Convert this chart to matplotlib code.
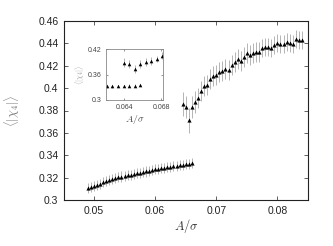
import numpy as np
import matplotlib
matplotlib.use("Agg")
import matplotlib.pyplot as plt
from matplotlib.ticker import FuncFormatter

plt.rcParams['font.family'] = ['Liberation Sans', 'DejaVu Sans']
plt.rcParams['mathtext.fontset'] = 'cm'

# Lower branch (main plot)
x_low = [0.0490, 0.0495, 0.0500, 0.0505, 0.0510, 0.0515, 0.0520, 0.0525, 0.0530,
         0.0535, 0.0540, 0.0545, 0.0550, 0.0555, 0.0560, 0.0565, 0.0570, 0.0575,
         0.0580, 0.0585, 0.0590, 0.0595, 0.0600, 0.0605, 0.0610, 0.0615, 0.0620,
         0.0625, 0.0630, 0.0635, 0.0640, 0.0645, 0.0650, 0.0655, 0.0660]
y_low = [0.3108, 0.3118, 0.3128, 0.3138, 0.3147, 0.3158, 0.3170, 0.3180, 0.3188,
         0.3196, 0.3204, 0.3210, 0.3215, 0.3220, 0.3226, 0.3233, 0.3240, 0.3245,
         0.3250, 0.3255, 0.3261, 0.3267, 0.3273, 0.3278, 0.3283, 0.3288, 0.3294,
         0.3298, 0.3302, 0.3307, 0.3312, 0.3316, 0.3320, 0.3325, 0.3331]
e_low = [0.0045] * len(x_low)

# Upper branch (main plot)
x_up = [0.0645, 0.0650, 0.0655, 0.0660, 0.0665, 0.0670, 0.0675, 0.0680, 0.0685,
        0.0690, 0.0695, 0.0700, 0.0705, 0.0710, 0.0715, 0.0720, 0.0725, 0.0730,
        0.0735, 0.0740, 0.0745, 0.0750, 0.0755, 0.0760, 0.0765, 0.0770, 0.0775,
        0.0780, 0.0785, 0.0790, 0.0795, 0.0800, 0.0805, 0.0810, 0.0815, 0.0820,
        0.0825, 0.0830, 0.0835, 0.0840]
y_up = [0.3858, 0.3834, 0.3712, 0.3829, 0.3876, 0.3915, 0.3971, 0.4022, 0.4025,
        0.4082, 0.4111, 0.4120, 0.4141, 0.4150, 0.4174, 0.4162, 0.4210, 0.4234,
        0.4263, 0.4245, 0.4275, 0.4311, 0.4293, 0.4317, 0.4320, 0.4323, 0.4359,
        0.4365, 0.4368, 0.4359, 0.4389, 0.4400, 0.4397, 0.4392, 0.4415, 0.4403,
        0.4394, 0.4442, 0.4430, 0.4430]
e_up = [0.011, 0.010, 0.011, 0.010, 0.010, 0.009, 0.009, 0.009, 0.009, 0.009,
        0.009, 0.009, 0.009, 0.009, 0.009, 0.009, 0.009, 0.009, 0.009, 0.009,
        0.009, 0.009, 0.009, 0.009, 0.009, 0.009, 0.008, 0.008, 0.008, 0.008,
        0.008, 0.008, 0.008, 0.008, 0.008, 0.008, 0.008, 0.008, 0.008, 0.008]

# Inset data
xi_low = [0.0621, 0.0627, 0.0633, 0.0639, 0.0645, 0.0651, 0.0657]
yi_low = [0.332, 0.332, 0.333, 0.333, 0.334, 0.334, 0.335]
ei_low = [0.003] * len(xi_low)
xi_up = [0.0639, 0.0645, 0.0651, 0.0657, 0.0663, 0.0669, 0.0675, 0.0681]
yi_up = [0.388, 0.385, 0.373, 0.385, 0.3895, 0.392, 0.397, 0.405]
ei_up = [0.011, 0.010, 0.010, 0.010, 0.009, 0.009, 0.008, 0.008]

main_xticks = [0.05, 0.06, 0.07, 0.08]
main_yticks = [0.30, 0.32, 0.34, 0.36, 0.38, 0.40, 0.42, 0.44, 0.46]
ins_xticks = [0.064, 0.068]
ins_yticks = [0.30, 0.36, 0.42]

W, H = 333, 246
fig = plt.figure(figsize=(W / 100, H / 100), dpi=100)
ax = fig.add_axes([64 / W, 1 - 200 / H, (308 - 64) / W, (200 - 21) / H])

fmt = FuncFormatter(lambda v, p: ('%g' % round(v, 4)))
ebkw = dict(fmt='^', color='black', ecolor='#a8a8a8', elinewidth=0.6,
            capsize=1.5, capthick=0.6, markersize=3.0, markeredgewidth=0)
ax.errorbar(x_low, y_low, yerr=e_low, **ebkw)
ax.errorbar(x_up, y_up, yerr=e_up, **ebkw)
ax.set_xlim(0.0451, 0.0850)
ax.set_ylim(0.30, 0.46)
ax.set_xticks(main_xticks)
ax.set_yticks(main_yticks)
ax.xaxis.set_major_formatter(fmt)
ax.yaxis.set_major_formatter(fmt)
ax.tick_params(direction='in', top=True, right=True, length=3, width=0.5,
               labelsize=7.5, colors='#222222', pad=4)
for s in ax.spines.values():
    s.set_linewidth(0.8)
    s.set_color('#222222')
ax.set_xlabel(r'$A/\sigma$', fontsize=9, color='#333333', labelpad=1)
ax.set_ylabel(r'$\langle|\chi_4|\rangle$', fontsize=9, color='#777777', labelpad=12)

# Inset
ins = fig.add_axes([106 / W, 1 - 100 / H, (163.3 - 106) / W, (100 - 49.3) / H])
ekw2 = dict(ebkw)
ekw2.update(markersize=2.6, capsize=1.2)
ins.errorbar(xi_low, yi_low, yerr=ei_low, **ekw2)
ins.errorbar(xi_up, yi_up, yerr=ei_up, **ekw2)
ins.set_xlim(0.0620, 0.0682)
ins.set_ylim(0.30, 0.42)
ins.set_xticks(ins_xticks)
ins.set_yticks(ins_yticks)
ins.xaxis.set_major_formatter(fmt)
ins.yaxis.set_major_formatter(fmt)
ins.tick_params(direction='in', top=True, right=True, length=1.5, width=0.4,
                labelsize=5, colors='#444444', pad=3)
for s in ins.spines.values():
    s.set_linewidth(0.6)
    s.set_color('#888888')
ins.set_xlabel(r'$A/\sigma$', fontsize=7, color='#444444', labelpad=1)
ins.set_ylabel(r'$\langle|\chi_4|\rangle$', fontsize=5.5, color='#999999', labelpad=1)

fig.savefig('out.png', dpi=100)
